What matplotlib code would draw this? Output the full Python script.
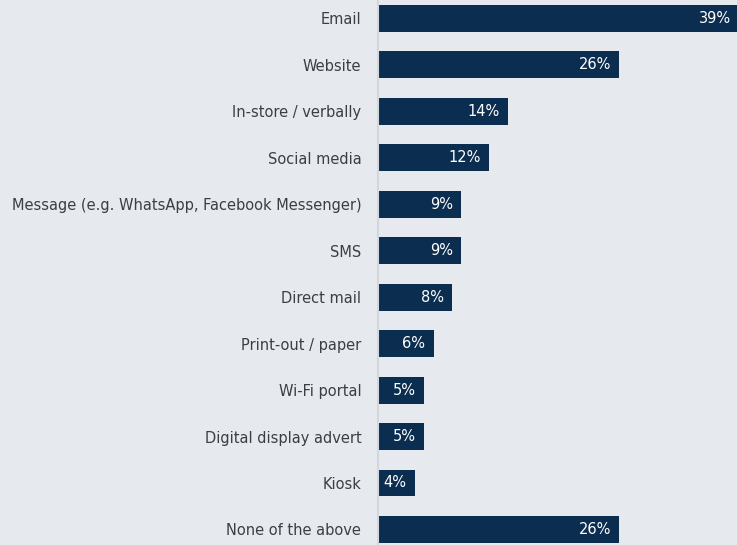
import matplotlib
matplotlib.use("Agg")
import matplotlib.pyplot as plt

categories = [
    "Email",
    "Website",
    "In-store / verbally",
    "Social media",
    "Message (e.g. WhatsApp, Facebook Messenger)",
    "SMS",
    "Direct mail",
    "Print-out / paper",
    "Wi-Fi portal",
    "Digital display advert",
    "Kiosk",
    "None of the above",
]
values = [39, 26, 14, 12, 9, 9, 8, 6, 5, 5, 4, 26]

BG = "#e6e9ed"
BAR = "#0b2e50"
TEXT = "#3a3f45"
AXIS = "#d3d7db"

plt.rcParams["font.family"] = ["DejaVu Sans"]

fig = plt.figure(figsize=(7.37, 5.45), dpi=100, facecolor=BG)
ax = fig.add_axes([378 / 737, 0.0, 1 - 378 / 737, 1.0], facecolor=BG)

y = list(range(len(categories)))
ax.barh(y, values, height=0.58, color=BAR, zorder=2)

ax.set_xlim(0, 38.7)
ax.set_ylim(11.335, -0.398)

for yi, v in zip(y, values):
    ax.annotate(f"{v}%", xy=(v, yi), xytext=(-6, 0), textcoords="offset points",
                ha="right", va="center", color="white", fontsize=10.5, zorder=3,
                annotation_clip=False)

ax.set_yticks(y)
ax.set_yticklabels(categories, fontsize=10.5, color=TEXT)
ax.tick_params(axis="y", length=0, pad=12)
ax.set_xticks([])

for side in ("top", "right", "bottom"):
    ax.spines[side].set_visible(False)
ax.spines["left"].set_color(AXIS)
ax.spines["left"].set_linewidth(1.5)

fig.savefig("out.png", dpi=100, facecolor=BG)
